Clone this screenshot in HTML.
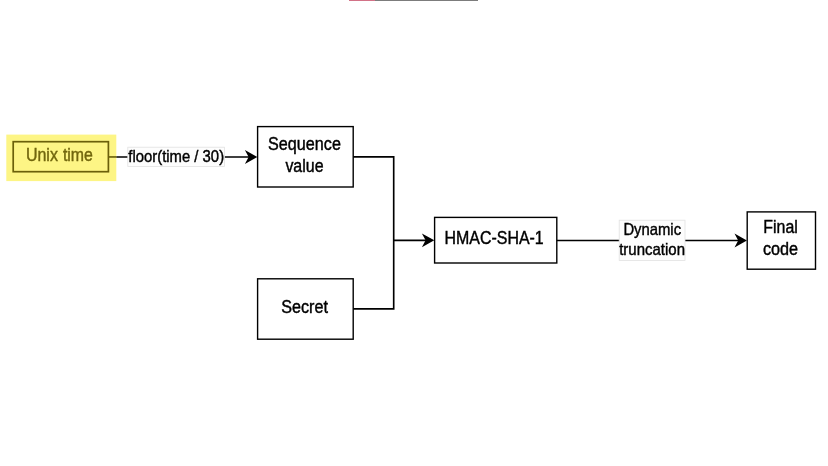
<!DOCTYPE html>
<html>
<head>
<meta charset="utf-8">
<title>TOTP diagram</title>
<style>
html,body{margin:0;padding:0;background:#fff;}
body{width:828px;height:466px;overflow:hidden;font-family:"Liberation Sans",sans-serif;}
svg{display:block;filter:blur(0.4px);}
text{font-family:"Liberation Sans",sans-serif;fill:#000;stroke:#000;stroke-width:0.42px;}
</style>
</head>
<body>
<svg width="828" height="466" viewBox="0 0 828 466">
  <rect x="0" y="0" width="828" height="466" fill="#ffffff"/>
  <!-- top progress sliver -->
  <rect x="349" y="-0.2" width="129" height="1" fill="#5c5c5c"/>
  <rect x="349" y="-0.2" width="26" height="1" fill="#e8708a"/>

  <g stroke="#000" stroke-width="1.4" fill="none">
    <!-- boxes -->
    <rect x="257.6" y="126.6" width="95.6" height="60.4" fill="#fff"/>
    <rect x="257.6" y="278.8" width="95.6" height="60.4" fill="#fff"/>
    <rect x="434.6" y="217.4" width="122.2" height="45.6" fill="#fff"/>
    <rect x="747.2" y="211.9" width="68.3" height="57.3" fill="#fff"/>
  </g>
  <g stroke="#000" stroke-width="1.65" fill="none">
    <!-- edges -->
    <path d="M108.4 156.95 H250"/>
    <path d="M353.2 156.9 H393.7 V308.9 H353.2"/>
    <path d="M393.8 240.3 H428"/>
    <path d="M556.8 240.5 H740"/>
  </g>
  <!-- arrowheads -->
  <g fill="#000" stroke="none">
    <path d="M257.3 157 L244.9 150.1 L248.6 157 L244.9 163.9 Z"/>
    <path d="M434.3 240.3 L421.9 233.4 L425.6 240.3 L421.9 247.2 Z"/>
    <path d="M746.9 240.5 L734.5 233.6 L738.2 240.5 L734.5 247.4 Z"/>
  </g>

  <!-- highlighted Unix time box -->
  <rect x="6.3" y="134.6" width="110" height="46.5" fill="#fdf585"/>
  <path d="M108.4 156.95 H116.3" stroke="#6b600a" stroke-width="1.65" fill="none"/>
  <rect x="13.2" y="141.7" width="95.2" height="30" fill="none" stroke="#6b600a" stroke-width="1.7"/>
  <text x="25.9" y="160.7" font-size="18" textLength="32" lengthAdjust="spacingAndGlyphs" style="fill:#71660d;stroke:#71660d">Unix</text>
  <text x="62.9" y="160.7" font-size="18" textLength="30" lengthAdjust="spacingAndGlyphs" style="fill:#71660d;stroke:#71660d">time</text>

  <!-- edge labels -->
  <rect x="127.8" y="147.2" width="96.6" height="19.2" fill="#fdfdfd" stroke="#e2e2e2" stroke-width="0.8"/>
  <text x="128.3" y="161.6" font-size="16.5" textLength="95.8" lengthAdjust="spacingAndGlyphs">floor(time / 30)</text>

  <rect x="619.2" y="220.2" width="65.8" height="40.2" fill="#fdfdfd" stroke="#e2e2e2" stroke-width="0.8"/>
  <text x="623.4" y="235.3" font-size="16.5" textLength="57.7" lengthAdjust="spacingAndGlyphs">Dynamic</text>
  <text x="619.2" y="254.7" font-size="16.5" textLength="65.8" lengthAdjust="spacingAndGlyphs">truncation</text>

  <!-- box labels -->
  <text x="268.1" y="149.6" font-size="18" textLength="72.8" lengthAdjust="spacingAndGlyphs">Sequence</text>
  <text x="285.4" y="172.3" font-size="18" textLength="38.1" lengthAdjust="spacingAndGlyphs">value</text>
  <text x="281.2" y="312.9" font-size="18" textLength="46.7" lengthAdjust="spacingAndGlyphs">Secret</text>
  <text x="444.5" y="244.3" font-size="18" textLength="99.2" lengthAdjust="spacingAndGlyphs">HMAC-SHA-1</text>
  <text x="763.3" y="232.9" font-size="18" textLength="34.5" lengthAdjust="spacingAndGlyphs">Final</text>
  <text x="762.9" y="255.2" font-size="18" textLength="35.2" lengthAdjust="spacingAndGlyphs">code</text>

</svg>
</body>
</html>
